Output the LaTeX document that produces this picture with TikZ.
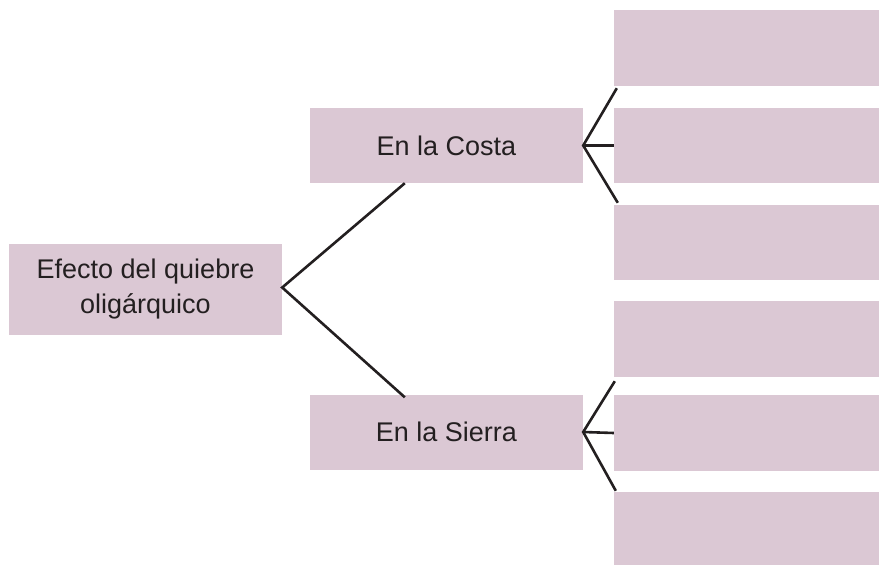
\documentclass[tikz,border=0pt]{standalone}
\usepackage{fontspec}
\setmainfont{Liberation Sans}
\definecolor{boxfill}{HTML}{DBC8D4}
\definecolor{ink}{HTML}{231F20}
\begin{document}
\begin{tikzpicture}[x=1pt,y=-1pt,
  pbox/.style={fill=boxfill,draw=none,inner sep=0pt,align=center,text=ink,
    font=\fontsize{27}{35}\selectfont},
  link/.style={draw=ink,line width=2.6pt,line join=miter}]
\useasboundingbox (0,0) rectangle (879,565);
% boxes
\node[pbox,minimum width=273pt,minimum height=91pt] (efecto) at (145.5,289.5) {Efecto del quiebre\\oligárquico};
\node[pbox,minimum width=273pt,minimum height=75pt] (costa) at (446.5,145.5) {En la Costa};
\node[pbox,minimum width=273pt,minimum height=75pt] (sierra) at (446.5,432) {En la Sierra};
\node[pbox,minimum width=265pt,minimum height=76pt] (r1) at (746.5,48) {};
\node[pbox,minimum width=265pt,minimum height=75pt] (r2) at (746.5,145.5) {};
\node[pbox,minimum width=265pt,minimum height=75pt] (r3) at (746.5,242.5) {};
\node[pbox,minimum width=265pt,minimum height=76pt] (r4) at (746.5,339) {};
\node[pbox,minimum width=265pt,minimum height=76pt] (r5) at (746.5,433) {};
\node[pbox,minimum width=265pt,minimum height=73pt] (r6) at (746.5,528.5) {};
% connectors
\coordinate (ej) at ([yshift=2pt]efecto.east);
\draw[link] ([xshift=95pt,yshift=0pt]costa.south west) -- (ej) -- ([xshift=95pt,yshift=-3pt]sierra.north west);
\draw[link] ([xshift=3pt,yshift=-2pt]r1.south west) -- (costa.east) -- ([xshift=4pt,yshift=2pt]r3.north west);
\draw[link] (costa.east) -- (r2.west);
\draw[link] ([xshift=1pt,yshift=-4pt]r4.south west) -- (sierra.east) -- ([xshift=2pt,yshift=1pt]r6.north west);
\draw[link] (sierra.east) -- (r5.west);
\end{tikzpicture}
\end{document}
